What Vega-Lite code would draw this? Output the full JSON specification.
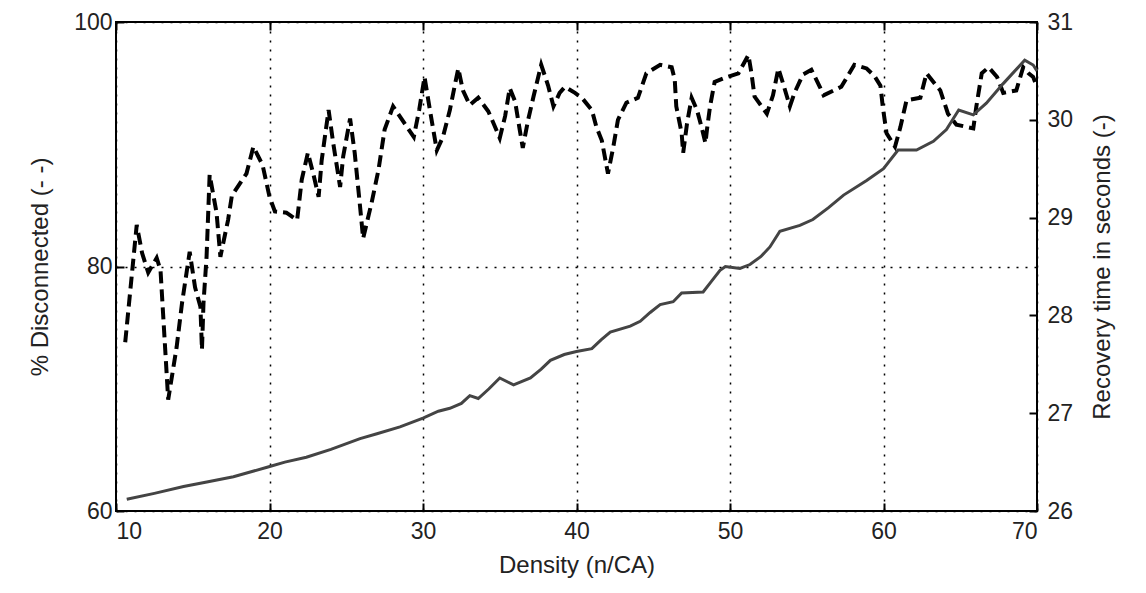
{
  "$schema": "https://vega.github.io/schema/vega-lite/v6.json",
  "autosize": "none",
  "width": 921,
  "height": 489,
  "padding": {"left": 116, "top": 22, "right": 109, "bottom": 82},
  "background": "white",
  "config": {
    "font": "Liberation Sans",
    "view": {"stroke": "black", "strokeWidth": 2},
    "axis": {
      "labelFont": "Liberation Sans",
      "titleFont": "Liberation Sans",
      "labelFontSize": 23,
      "titleFontSize": 24,
      "titleFontWeight": "normal",
      "labelColor": "#222",
      "titleColor": "#222",
      "domain": false,
      "tickColor": "black",
      "tickWidth": 2,
      "tickSize": -8,
      "gridColor": "black",
      "gridDash": [2, 7],
      "gridWidth": 1.5,
      "gridOpacity": 1
    }
  },
  "datasets": {
    "disc": [
      {"d": 10.6, "p": 73.8}, {"d": 11.35, "p": 83.4}, {"d": 11.7, "p": 81.1}, {"d": 12.1, "p": 79.5},
      {"d": 12.65, "p": 80.7}, {"d": 12.9, "p": 79.7}, {"d": 13.4, "p": 69.1}, {"d": 13.95, "p": 73.4},
      {"d": 14.3, "p": 77}, {"d": 14.8, "p": 81.2}, {"d": 15.15, "p": 78.3}, {"d": 15.5, "p": 76.7},
      {"d": 15.6, "p": 73.2}, {"d": 15.7, "p": 77}, {"d": 15.9, "p": 80.8}, {"d": 16.1, "p": 87.5},
      {"d": 16.55, "p": 84.4}, {"d": 16.8, "p": 80.8}, {"d": 17.3, "p": 83.8}, {"d": 17.55, "p": 85.8},
      {"d": 18.5, "p": 87.6}, {"d": 18.95, "p": 89.8}, {"d": 19.55, "p": 88.3}, {"d": 20.0, "p": 85.7},
      {"d": 20.35, "p": 84.5}, {"d": 21.1, "p": 84.4}, {"d": 21.8, "p": 83.8}, {"d": 22.1, "p": 87.1},
      {"d": 22.5, "p": 89.3}, {"d": 22.85, "p": 87.6}, {"d": 23.2, "p": 85.7}, {"d": 23.4, "p": 88.7},
      {"d": 23.85, "p": 92.8}, {"d": 24.15, "p": 90.1}, {"d": 24.6, "p": 86.5}, {"d": 24.8, "p": 89},
      {"d": 25.25, "p": 92.1}, {"d": 25.55, "p": 89.3}, {"d": 25.9, "p": 84.9}, {"d": 26.1, "p": 82.3},
      {"d": 26.65, "p": 85.2}, {"d": 27.1, "p": 87.9}, {"d": 27.5, "p": 91.2}, {"d": 28.05, "p": 93.1},
      {"d": 28.8, "p": 91.7}, {"d": 29.4, "p": 90.6}, {"d": 29.75, "p": 92.8}, {"d": 30.1, "p": 95.5},
      {"d": 30.45, "p": 92.8}, {"d": 30.9, "p": 89.5}, {"d": 31.3, "p": 90.6}, {"d": 31.75, "p": 92.8},
      {"d": 32.1, "p": 95}, {"d": 32.3, "p": 96.2}, {"d": 32.6, "p": 94.4}, {"d": 33.05, "p": 93.2},
      {"d": 33.6, "p": 93.8}, {"d": 34.25, "p": 92.7}, {"d": 34.6, "p": 91.7}, {"d": 35.0, "p": 90.5},
      {"d": 35.35, "p": 92.3}, {"d": 35.65, "p": 94.6}, {"d": 36.0, "p": 93.5}, {"d": 36.3, "p": 91.2},
      {"d": 36.5, "p": 89.7}, {"d": 36.85, "p": 92}, {"d": 37.2, "p": 93.9}, {"d": 37.7, "p": 96.5},
      {"d": 38.15, "p": 94.8}, {"d": 38.5, "p": 93.1}, {"d": 38.9, "p": 94.2}, {"d": 39.25, "p": 94.7},
      {"d": 39.9, "p": 94.2}, {"d": 40.35, "p": 93.8}, {"d": 41.0, "p": 92.8}, {"d": 41.3, "p": 91.4},
      {"d": 41.65, "p": 90.3}, {"d": 42.05, "p": 87.6}, {"d": 42.4, "p": 89.8}, {"d": 42.7, "p": 92},
      {"d": 43.25, "p": 93.4}, {"d": 44.0, "p": 93.8}, {"d": 44.55, "p": 95.8}, {"d": 45.45, "p": 96.5},
      {"d": 46.2, "p": 96.3}, {"d": 46.4, "p": 95.3}, {"d": 46.5, "p": 93.1}, {"d": 46.85, "p": 90.9},
      {"d": 46.95, "p": 89.3}, {"d": 47.2, "p": 91.7}, {"d": 47.5, "p": 93.8}, {"d": 47.85, "p": 92.8},
      {"d": 48.15, "p": 91.4}, {"d": 48.4, "p": 90.1}, {"d": 48.5, "p": 91.2}, {"d": 48.7, "p": 93.1},
      {"d": 49.0, "p": 95.1}, {"d": 49.8, "p": 95.5}, {"d": 50.55, "p": 95.8}, {"d": 51.2, "p": 97.3},
      {"d": 51.4, "p": 95.8}, {"d": 51.6, "p": 93.9}, {"d": 52.4, "p": 92.5}, {"d": 52.8, "p": 94},
      {"d": 53.15, "p": 96.2}, {"d": 53.45, "p": 95}, {"d": 53.9, "p": 93.1}, {"d": 54.2, "p": 94.2},
      {"d": 54.75, "p": 95.7}, {"d": 55.3, "p": 96.1}, {"d": 55.85, "p": 94.7}, {"d": 56.1, "p": 94},
      {"d": 57.25, "p": 94.7}, {"d": 58.1, "p": 96.5}, {"d": 58.9, "p": 96.2}, {"d": 59.4, "p": 95.6},
      {"d": 59.8, "p": 94.8}, {"d": 59.95, "p": 93.1}, {"d": 60.2, "p": 90.9}, {"d": 60.75, "p": 89.8},
      {"d": 61.1, "p": 91.4}, {"d": 61.5, "p": 93.6}, {"d": 62.4, "p": 93.8}, {"d": 62.8, "p": 95.8},
      {"d": 63.7, "p": 94.4}, {"d": 64.2, "p": 92.5}, {"d": 64.75, "p": 91.6}, {"d": 65.85, "p": 91.3},
      {"d": 66.05, "p": 93.1}, {"d": 66.4, "p": 95.8}, {"d": 66.85, "p": 96.3}, {"d": 67.4, "p": 95.5},
      {"d": 67.8, "p": 94.2}, {"d": 68.65, "p": 94.4}, {"d": 69.1, "p": 96.3}, {"d": 69.45, "p": 95.8},
      {"d": 69.75, "p": 95.5}, {"d": 70.0, "p": 94.7}
    ],
    "rec": [
      {"d": 10.7, "r": 26.12}, {"d": 12.5, "r": 26.18}, {"d": 14.4, "r": 26.25}, {"d": 16.0, "r": 26.3},
      {"d": 17.65, "r": 26.35}, {"d": 19.9, "r": 26.45}, {"d": 21.0, "r": 26.5}, {"d": 22.4, "r": 26.55},
      {"d": 24.0, "r": 26.63}, {"d": 25.9, "r": 26.74}, {"d": 27.0, "r": 26.79}, {"d": 28.5, "r": 26.86},
      {"d": 30.0, "r": 26.95}, {"d": 31.0, "r": 27.02}, {"d": 31.75, "r": 27.05}, {"d": 32.5, "r": 27.1},
      {"d": 33.05, "r": 27.18}, {"d": 33.6, "r": 27.15}, {"d": 34.3, "r": 27.25}, {"d": 35.0, "r": 27.36},
      {"d": 35.9, "r": 27.29}, {"d": 37.0, "r": 27.36}, {"d": 37.7, "r": 27.45}, {"d": 38.3, "r": 27.54},
      {"d": 39.2, "r": 27.6}, {"d": 40.0, "r": 27.63}, {"d": 41.0, "r": 27.66}, {"d": 41.6, "r": 27.75},
      {"d": 42.2, "r": 27.83}, {"d": 43.5, "r": 27.89}, {"d": 44.15, "r": 27.94}, {"d": 44.8, "r": 28.03},
      {"d": 45.45, "r": 28.11}, {"d": 46.3, "r": 28.14}, {"d": 46.85, "r": 28.23}, {"d": 48.25, "r": 28.24},
      {"d": 48.8, "r": 28.35}, {"d": 49.35, "r": 28.46}, {"d": 49.7, "r": 28.5}, {"d": 50.65, "r": 28.48},
      {"d": 51.3, "r": 28.52}, {"d": 52.0, "r": 28.6}, {"d": 52.6, "r": 28.7}, {"d": 53.25, "r": 28.86},
      {"d": 54.55, "r": 28.92}, {"d": 55.4, "r": 28.98}, {"d": 56.4, "r": 29.1}, {"d": 57.4, "r": 29.23},
      {"d": 58.9, "r": 29.38}, {"d": 60.0, "r": 29.5}, {"d": 60.95, "r": 29.69}, {"d": 62.15, "r": 29.69},
      {"d": 63.25, "r": 29.78}, {"d": 64.1, "r": 29.9}, {"d": 64.9, "r": 30.1}, {"d": 65.85, "r": 30.05},
      {"d": 66.7, "r": 30.17}, {"d": 67.8, "r": 30.37}, {"d": 69.2, "r": 30.61}, {"d": 69.75, "r": 30.56},
      {"d": 70.0, "r": 30.5}
    ]
  },
  "layer": [
    {
      "data": {"name": "disc"},
      "mark": {"type": "line", "color": "black", "strokeWidth": 4, "strokeDash": [12, 6]},
      "encoding": {
        "x": {
          "field": "d", "type": "quantitative",
          "scale": {"domain": [10, 70], "nice": false, "zero": false},
          "axis": {"orient": "bottom", "values": [10, 20, 30, 40, 50, 60, 70], "grid": true, "title": "Density (n/CA)", "labelPadding": 17, "titlePadding": 10}
        },
        "y": {
          "field": "p", "type": "quantitative",
          "scale": {"domain": [60, 100], "nice": false, "zero": false},
          "axis": {"orient": "left", "values": [60, 80, 100], "grid": true, "title": "% Disconnected (- -)", "labelPadding": 12, "titlePadding": 21}
        }
      }
    },
    {
      "data": {"name": "rec"},
      "mark": {"type": "line", "color": "#444444", "strokeWidth": 3},
      "encoding": {
        "x": {"field": "d", "type": "quantitative", "axis": null},
        "y": {
          "field": "r", "type": "quantitative",
          "scale": {"domain": [26, 31], "nice": false, "zero": false},
          "axis": {"orient": "right", "values": [26, 27, 28, 29, 30, 31], "grid": false, "title": "Recovery time in seconds (-)", "titleAngle": -90, "labelPadding": 18, "titlePadding": 42}
        }
      }
    },
    {
      "data": {"name": "rec"},
      "mark": {"type": "line", "opacity": 0},
      "encoding": {
        "x": {
          "field": "d", "type": "quantitative",
          "axis": {"orient": "top", "values": [10, 20, 30, 40, 50, 60, 70], "labels": false, "grid": false, "title": null}
        },
        "y": {"field": "r", "type": "quantitative", "scale": {"domain": [26, 31], "nice": false, "zero": false}, "axis": null}
      }
    }
  ],
  "resolve": {"scale": {"y": "independent"}, "axis": {"x": "independent"}}
}
